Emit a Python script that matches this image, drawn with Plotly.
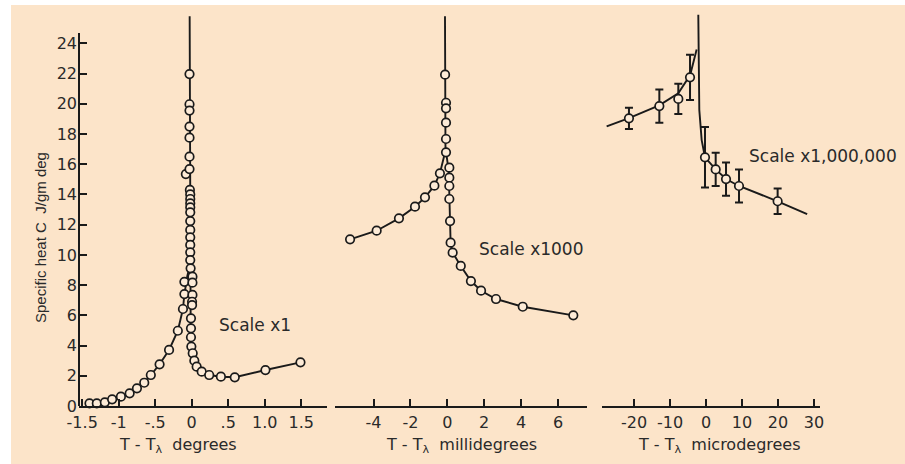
import plotly.graph_objects as go

W, H = 905, 464

# ---------------- Scale x1 : T - T_lambda in degrees ----------------
deg_x = [-1.40, -1.30, -1.19, -1.09, -0.97, -0.85, -0.75, -0.65, -0.56, -0.44,
         -0.31, -0.19, -0.12, -0.10, -0.10, -0.08,
         -0.03, -0.03, -0.03, -0.03, -0.03, -0.03, -0.03, -0.025, -0.02, -0.02,
         -0.02, -0.02, -0.02, -0.02, -0.02, -0.02, -0.02, -0.02, -0.02, -0.015,
         0.01, 0.01, 0.01, 0.005, 0.005, -0.01, -0.01, -0.01, -0.005,
         0.014, 0.036, 0.068, 0.137, 0.24, 0.40, 0.59, 1.01, 1.49]
deg_y = [0.18, 0.18, 0.24, 0.44, 0.62, 0.84, 1.17, 1.54, 2.05, 2.76,
         3.71, 4.98, 6.42, 7.41, 8.22, 15.35,
         21.97, 19.97, 19.55, 18.49, 17.76, 16.5, 15.68, 14.3, 14.0, 13.7,
         13.41, 13.15, 12.82, 12.24, 11.65, 11.16, 10.66, 10.17, 9.66, 9.11,
         8.56, 8.16, 7.35, 6.9, 6.68, 5.8, 5.14, 4.55, 3.93,
         3.49, 3.0, 2.60, 2.27, 2.05, 1.94, 1.90, 2.38, 2.89]
deg_low_x = [-1.42, -1.30, -1.19, -1.09, -0.97, -0.85, -0.75, -0.65, -0.56, -0.44,
             -0.31, -0.19, -0.12, -0.10, -0.06, -0.03]
deg_low_y = [0.12, 0.18, 0.24, 0.44, 0.62, 0.84, 1.17, 1.54, 2.05, 2.76,
             3.71, 4.98, 6.42, 7.41, 8.6, 9.2]
deg_high_x = [-0.028, -0.025, -0.02, -0.014, -0.005, 0.012, 0.036, 0.068, 0.137,
              0.24, 0.40, 0.59, 1.01, 1.49]
deg_high_y = [25.8, 16.0, 9.0, 5.2, 3.9, 3.3, 3.0, 2.60, 2.27,
              2.05, 1.94, 1.90, 2.38, 2.89]

# ---------------- Scale x1000 : millidegrees ----------------
mdeg_x = [-5.27, -3.83, -2.62, -1.75, -1.21, -0.70, -0.40,
          -0.12, -0.07, -0.07, -0.07, -0.07, -0.07,
          0.11, 0.11, 0.11, 0.11, 0.15, 0.18, 0.29, 0.73, 1.28, 1.83, 2.64, 4.09, 6.83]
mdeg_y = [11.03, 11.6, 12.42, 13.19, 13.81, 14.58, 15.4,
          21.93, 20.07, 19.7, 18.75, 17.67, 16.79,
          15.77, 15.11, 14.56, 13.7, 12.24, 10.81, 10.15, 9.27, 8.27, 7.63, 7.08, 6.57, 6.0]
mdeg_low_x = [-5.27, -3.83, -2.62, -1.75, -1.21, -0.70, -0.40, -0.12]
mdeg_low_y = [11.03, 11.6, 12.42, 13.19, 13.81, 14.58, 15.4, 16.8]
mdeg_high_x = [-0.125, -0.12, -0.10, -0.02, 0.08, 0.11, 0.13, 0.18, 0.29, 0.73,
               1.28, 1.83, 2.64, 4.09, 6.83]
mdeg_high_y = [25.8, 20.5, 17.2, 16.4, 15.5, 14.0, 12.24, 10.81, 10.15, 9.27,
               8.27, 7.63, 7.08, 6.57, 6.0]

# ---------------- Scale x1,000,000 : microdegrees ----------------
udeg_x = [-21.4, -12.96, -7.69, -4.44, -0.28, 2.69, 5.56, 9.17, 19.9]
udeg_y = [19.04, 19.85, 20.32, 21.75, 16.46, 15.66, 15.02, 14.56, 13.55]
udeg_err = [0.7, 1.1, 1.0, 1.5, 2.0, 1.1, 1.1, 1.1, 0.85]
udeg_low_x = [-27.6, -21.4, -13.0, -7.7, -4.4, -2.6]
udeg_low_y = [18.5, 19.05, 19.9, 20.7, 21.9, 23.6]
udeg_high_x = [-2.14, -2.05, -1.86, -1.2, -0.55, -0.28, 2.69, 5.56, 9.17, 19.9, 28.1]
udeg_high_y = [25.9, 23.0, 19.6, 17.6, 16.6, 16.46, 15.66, 15.02, 14.56, 13.55, 12.7]

# tick labels
deg_ticks = [-1.5, -1, -0.5, 0, 0.5, 1.0, 1.5]
deg_labels = ["-1.5", "-1", "-.5", "0", ".5", "1.0", "1.5"]
mdeg_ticks = [-4, -2, 0, 2, 4, 6]
udeg_ticks = [-20, -10, 0, 10, 20, 30]
c_ticks = list(range(0, 25, 2))

INK = "#1a1a1a"
TXT = "#2a2a2a"
PEACH = "#FCE4C9"
DOT_FILL = "#FDEBD7"
TICK_FONT = dict(family="DejaVu Sans", size=16, color=TXT)


def px_x(p):
    return p / W


def px_y(p):
    return 1 - p / H


fig = go.Figure()

panels = [
    ("x", deg_low_x, deg_low_y, deg_high_x, deg_high_y, deg_x, deg_y),
    ("x2", mdeg_low_x, mdeg_low_y, mdeg_high_x, mdeg_high_y, mdeg_x, mdeg_y),
    ("x3", udeg_low_x, udeg_low_y, udeg_high_x, udeg_high_y, None, None),
]
for xa, lx, ly, hx, hy, px_, py_ in panels:
    for cx, cy in ((lx, ly), (hx, hy)):
        fig.add_trace(go.Scatter(x=cx, y=cy, xaxis=xa, yaxis="y", mode="lines",
                                 line=dict(color=INK, width=1.9),
                                 showlegend=False, hoverinfo="skip"))
    if px_ is not None:
        fig.add_trace(go.Scatter(x=px_, y=py_, xaxis=xa, yaxis="y", mode="markers",
                                 marker=dict(symbol="circle", size=8.5, color=DOT_FILL,
                                             line=dict(color=INK, width=1.7)),
                                 showlegend=False, cliponaxis=False))

fig.add_trace(go.Scatter(x=udeg_x, y=udeg_y, xaxis="x3", yaxis="y", mode="markers",
                         error_y=dict(type="data", array=udeg_err, visible=True,
                                      color=INK, thickness=2, width=4),
                         marker=dict(symbol="circle", size=8.5, color=DOT_FILL,
                                     line=dict(color=INK, width=1.7)),
                         showlegend=False, cliponaxis=False))

# axis geometry (pixels)
y_bot, y_top = 406, 12
c_per_px = 1 / 15.11
y_range = [0, (y_bot - y_top) * c_per_px]


def xaxis(left, right, zero, ppu, tickvals, ticktext=None):
    return dict(
        domain=[px_x(left), px_x(right)],
        range=[(left - zero) / ppu, (right - zero) / ppu],
        anchor="y", showline=True, linecolor=INK, linewidth=2,
        ticks="inside", ticklen=7, tickwidth=1.6, tickcolor=INK,
        tickvals=tickvals, ticktext=ticktext if ticktext else [str(v) for v in tickvals],
        tickfont=TICK_FONT, showgrid=False, zeroline=False, automargin=False,
        ticklabelstandoff=1, fixedrange=True,
    )


fig.update_layout(
    width=W, height=H,
    margin=dict(l=0, r=0, t=0, b=0, pad=0),
    paper_bgcolor="white", plot_bgcolor="rgba(0,0,0,0)",
    xaxis=xaxis(79, 326.7, 191.7, 73.0, deg_ticks, deg_labels),
    xaxis2=xaxis(335, 586.7, 447.3, 18.45, mdeg_ticks),
    xaxis3=xaxis(602, 820, 706, 3.6, udeg_ticks),
    yaxis=dict(
        domain=[px_y(y_bot), px_y(y_top)], range=y_range, anchor="x",
        showline=False, ticks="inside", ticklen=8, tickwidth=1.6, tickcolor=INK,
        tickvals=c_ticks, tickfont=TICK_FONT, showgrid=False, zeroline=False,
        automargin=False, ticklabelstandoff=1, fixedrange=True,
    ),
    showlegend=False,
)

# peach panel behind everything, and the C-axis spine
fig.add_shape(type="rect", xref="paper", yref="paper", x0=px_x(11), x1=1,
              y0=0, y1=px_y(5), fillcolor=PEACH, line_width=0, layer="below")
fig.add_shape(type="line", xref="paper", yref="y", x0=px_x(79), x1=px_x(79),
              y0=0, y1=(y_bot - 33) * c_per_px, line=dict(color=INK, width=2))

nb = "\u00a0"
titles = [
    (178, "degrees"),
    (461, "millidegrees"),
    (719, "microdegrees"),
]
for cx, unit in titles:
    fig.add_annotation(xref="paper", yref="paper", x=px_x(cx), y=px_y(445),
                       text=f"T{nb}-{nb}T<sub>λ</sub>{nb}{nb}{unit}", showarrow=False,
                       font=dict(family="DejaVu Sans", size=16, color=TXT),
                       xanchor="center", yanchor="middle")

fig.add_annotation(xref="paper", yref="paper", x=px_x(40), y=px_y(238),
                   text=f"Specific heat C{nb}{nb}J/gm deg", textangle=-90,
                   showarrow=False,
                   font=dict(family="Liberation Sans", size=15, color=TXT),
                   xanchor="center", yanchor="middle")

scales = [(217, 325, "Scale x1"), (476.7, 249, "Scale x1000"),
          (746.7, 156, "Scale x1,000,000")]
for lx, cy, txt in scales:
    fig.add_annotation(xref="paper", yref="paper", x=px_x(lx), y=px_y(cy),
                       text=txt, showarrow=False,
                       font=dict(family="DejaVu Sans", size=17, color=TXT),
                       xanchor="left", yanchor="middle")

fig.write_html("out.html")
